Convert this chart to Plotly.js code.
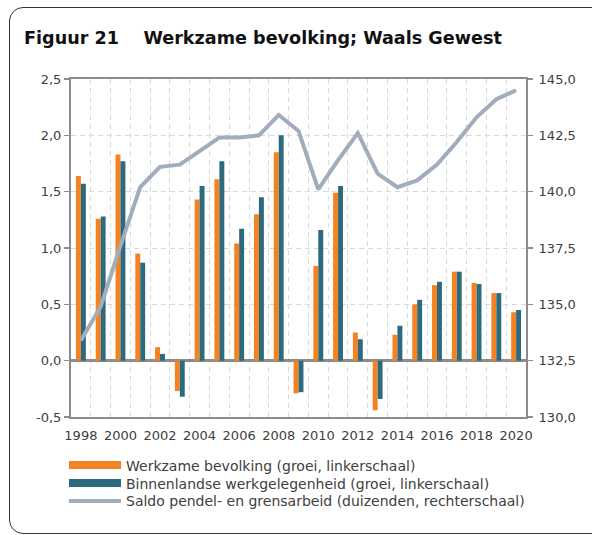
<!DOCTYPE html>
<html><head><meta charset="utf-8">
<script src="https://cdn.plot.ly/plotly-3.0.1.min.js"></script>
<style>
html,body{margin:0;padding:0;background:#fff;overflow:hidden;}
#chart{position:absolute;left:0;top:0;width:592px;height:535px;}
#frame{position:absolute;left:9px;top:7px;width:600px;height:525px;border:1.5px solid #333;border-radius:14px;pointer-events:none;}
</style></head><body>
<div id="chart"></div><div id="frame"></div>
<script>
const years = [1998,1999,2000,2001,2002,2003,2004,2005,2006,2007,2008,2009,2010,2011,2012,2013,2014,2015,2016,2017,2018,2019,2020];
const werkzameBevolking = [1.64,1.26,1.83,0.95,0.12,-0.27,1.43,1.61,1.04,1.30,1.85,-0.29,0.84,1.49,0.25,-0.44,0.23,0.50,0.67,0.79,0.69,0.60,0.43];
const binnenlandseWerkgelegenheid = [1.57,1.28,1.77,0.87,0.06,-0.32,1.55,1.77,1.17,1.45,2.00,-0.28,1.16,1.55,0.19,-0.34,0.31,0.54,0.70,0.79,0.68,0.60,0.45];
const saldoPendel = [133.4,134.9,137.6,140.2,141.1,141.2,141.8,142.4,142.4,142.5,143.4,142.7,140.1,141.4,142.6,140.8,140.2,140.5,141.2,142.2,143.3,144.1,144.5];
const seriesNames = ['Werkzame bevolking (groei, linkerschaal)','Binnenlandse werkgelegenheid (groei, linkerschaal)','Saldo pendel- en grensarbeid (duizenden, rechterschaal)'];
const leftTickVals = [-0.5,0,0.5,1,1.5,2,2.5];
const leftTickText = ['-0,5','0,0','0,5','1,0','1,5','2,0','2,5'];
const rightTickVals = [130,132.5,135,137.5,140,142.5,145];
const rightTickText = ['130,0','132,5','135,0','137,5','140,0','142,5','145,0'];
const titleText = 'Figuur 21\u00a0\u00a0\u00a0\u00a0Werkzame bevolking; Waals Gewest';

const cOrange = '#F58220', cTeal = '#2E6A7E', cGray = '#A1ADBC';
const axisCol = '#8c8c8c', gridCol = '#d9d9d9', txtCol = '#404040';
const fam = 'DejaVu Sans';

const traces = [
  {type:'bar', x:years, y:werkzameBevolking, marker:{color:cOrange}, showlegend:false, hoverinfo:'skip'},
  {type:'bar', x:years, y:binnenlandseWerkgelegenheid, marker:{color:cTeal}, showlegend:false, hoverinfo:'skip'},
  {type:'scatter', mode:'lines', x:years, y:saldoPendel, yaxis:'y2', line:{color:cGray, width:4}, showlegend:false, hoverinfo:'skip'},
  {type:'scatter', mode:'lines', x:[null], y:[null], name:seriesNames[0], line:{color:cOrange, width:8}, legend:'legend'},
  {type:'scatter', mode:'lines', x:[null], y:[null], name:seriesNames[1], line:{color:cTeal, width:8}, legend:'legend2'},
  {type:'scatter', mode:'lines', x:[null], y:[null], name:seriesNames[2], line:{color:cGray, width:4}, legend:'legend3'}
];

const legendBase = {orientation:'v', x:-0.0154, xanchor:'left', yanchor:'top', itemwidth:52,
                    font:{family:fam, size:14, color:txtCol}, bgcolor:'rgba(0,0,0,0)'};

const layout = {
  width:592, height:535,
  margin:{l:71, r:66, t:79, b:118},
  paper_bgcolor:'#fff', plot_bgcolor:'#fff',
  barmode:'group', bargap:0.5, bargroupgap:0,
  font:{family:fam, color:txtCol, size:13},
  title:{text:titleText, x:24/592, xref:'container', xanchor:'left', y:1-38/535, yref:'container', yanchor:'middle',
         font:{family:fam, size:17.6, weight:'bold', color:'#111'}},
  xaxis:{range:[1997.5,2020.5], tickmode:'linear', tick0:1998, dtick:2, ticks:'', showgrid:false,
         showline:true, linecolor:axisCol, linewidth:2, mirror:true, zeroline:false, ticklabelstandoff:5,
         tickfont:{size:13, color:txtCol},
         minor:{tickmode:'linear', tick0:1997.5, dtick:1, showgrid:true, gridcolor:gridCol, gridwidth:1, griddash:'5px,4px', ticks:''}},
  yaxis:{range:[-0.5,2.5], tickmode:'array', tickvals:leftTickVals, ticktext:leftTickText,
         ticks:'outside', ticklen:5, tickwidth:1.5, tickcolor:axisCol,
         showgrid:true, gridcolor:gridCol, gridwidth:1, griddash:'5px,4px',
         zeroline:true, zerolinecolor:axisCol, zerolinewidth:2.5,
         showline:true, linecolor:axisCol, linewidth:2, tickfont:{size:13, color:txtCol}},
  yaxis2:{range:[130,145], overlaying:'y', side:'right', tickmode:'array', tickvals:rightTickVals, ticktext:rightTickText,
          ticks:'outside', ticklen:5, tickwidth:1.5, tickcolor:axisCol, showgrid:false, zeroline:false, ticklabelstandoff:3,
          showline:true, linecolor:axisCol, linewidth:2, tickfont:{size:13, color:txtCol}},
  legend:Object.assign({}, legendBase, {y:-0.0960}),
  legend2:Object.assign({}, legendBase, {y:-0.1493}),
  legend3:Object.assign({}, legendBase, {y:-0.2020}),
  showlegend:true
};

Plotly.newPlot('chart', traces, layout, {displayModeBar:false, staticPlot:true});
</script>
</body></html>
